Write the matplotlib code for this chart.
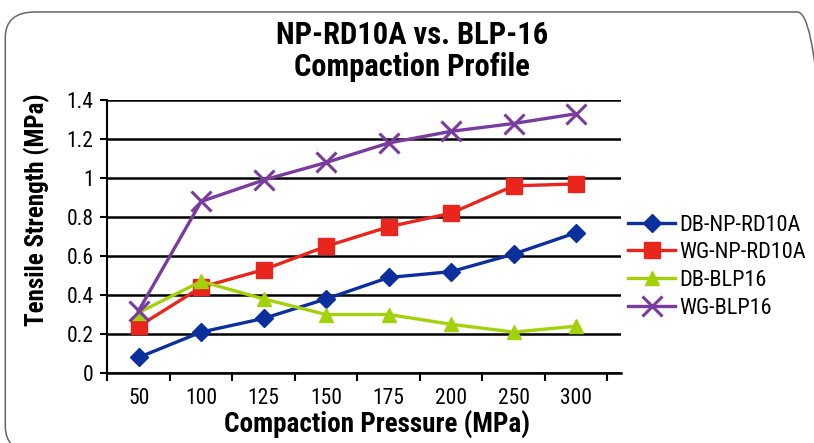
import matplotlib
matplotlib.use("Agg")
import matplotlib.pyplot as plt
from matplotlib.patches import FancyBboxPatch

pressures = ["50", "100", "125", "150", "175", "200", "250", "300"]
db_np = [0.08, 0.21, 0.28, 0.38, 0.49, 0.52, 0.61, 0.72]
wg_np = [0.24, 0.44, 0.53, 0.65, 0.75, 0.82, 0.96, 0.97]
db_blp = [0.31, 0.47, 0.38, 0.30, 0.30, 0.25, 0.21, 0.24]
wg_blp = [0.32, 0.88, 0.99, 1.08, 1.18, 1.24, 1.28, 1.33]
yticks = [0, 0.2, 0.4, 0.6, 0.8, 1, 1.2, 1.4]
ylabels = ["0", "0.2", "0.4", "0.6", "0.8", "1", "1.2", "1.4"]

plt.rcParams["font.family"] = ["Roboto Condensed", "Roboto", "DejaVu Sans"]

fig = plt.figure(figsize=(8.14, 4.43), dpi=100)
ax = fig.add_axes([0.132, 0.158, 0.631, 0.616])

# rounded frame around the whole chart
frame = FancyBboxPatch((0.0065, -0.02), 1.01, 0.993, boxstyle="round,pad=0,rounding_size=0.037",
                       transform=fig.transFigure, fill=False, edgecolor="#666666",
                       linewidth=1.1, clip_on=False, mutation_aspect=814 / 443 * 0.85)
fig.patches.append(frame)

x = list(range(len(pressures)))
ax.plot(x, db_np, color="#0b2f9c", lw=2.4, marker="D", ms=9.5, label="DB-NP-RD10A")
ax.plot(x, wg_np, color="#e8261e", lw=2.4, marker="s", ms=11, label="WG-NP-RD10A")
ax.plot(x, db_blp, color="#a3d10b", lw=2.4, marker="^", ms=10, label="DB-BLP16")
ax.plot(x, wg_blp, color="#7a3b9f", lw=2.4, marker="x", ms=14, mew=2.2, label="WG-BLP16")

ax.set_xlim(-0.5, 7.72)
ax.set_ylim(0, 1.4)
ax.set_yticks(yticks)
ax.set_yticklabels(ylabels, fontsize=15.5)
ax.set_xticks(x)
ax.set_xticklabels(pressures, fontsize=15.5)
ax.set_xticks([i - 0.5 for i in range(9)], minor=True)
ax.tick_params(axis="x", which="major", length=0, pad=11)
ax.tick_params(axis="x", which="minor", length=6, width=1.5, direction="out")
ax.tick_params(axis="y", length=5, width=1.5, direction="out", pad=5)

ax.grid(axis="y", color="black", lw=1.8)
ax.set_axisbelow(True)
for s in ["top", "right"]:
    ax.spines[s].set_visible(False)
ax.spines["left"].set_linewidth(1.5)
ax.spines["bottom"].set_linewidth(1.8)
ax.spines["bottom"].set_bounds(-0.5, 7.72)

ax.set_xlabel("Compaction Pressure (MPa)", fontsize=19.5, fontweight="bold")
ax.xaxis.set_label_coords(0.525, -0.14)
ax.set_ylabel("Tensile Strength (MPa)", fontsize=18, fontweight="bold")
ax.yaxis.set_label_coords(-0.112, 0.597)
fig.text(0.506, 0.885, "NP-RD10A vs. BLP-16\nCompaction Profile", ha="center", va="center",
         fontsize=22, fontweight="bold", linespacing=1.1)

leg = ax.legend(loc="center left", bbox_to_anchor=(0.975, 0.39), frameon=False,
                prop=dict(size=16), handlelength=2.1, labelspacing=0.3,
                handletextpad=0.2)

fig.savefig("out.png", dpi=100)
